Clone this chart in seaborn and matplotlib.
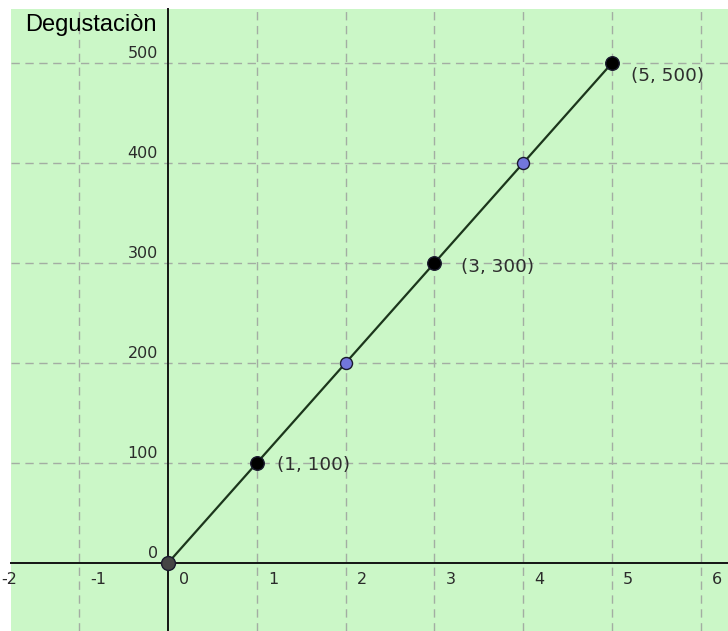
import matplotlib
matplotlib.use("Agg")
import matplotlib.pyplot as plt
import seaborn as sns
import pandas as pd

# Values of the linear relation y = 100 x
x_vals = [0, 1, 2, 3, 4, 5]
y_vals = [0, 100, 200, 300, 400, 500]
point_kind = ["origen", "dato", "intermedio", "dato", "intermedio", "dato"]

# Points carrying a coordinate label
label_x = [1, 3, 5]
label_y = [100, 300, 500]

x_ticks = [-2, -1, 0, 1, 2, 3, 4, 5, 6]
y_ticks = [0, 100, 200, 300, 400, 500]
y_title = "Degustaciòn"

df = pd.DataFrame({"x": x_vals, "y": y_vals, "tipo": point_kind})

sns.set_style("white")
plt.rcParams["font.family"] = ["DejaVu Sans"]

W, H = 728, 631
fig = plt.figure(figsize=(W / 100, H / 100), dpi=100, facecolor="white")
ax = fig.add_axes([11 / W, 0, (W - 11) / W, (H - 9) / H])
ax.set_facecolor("#cbf7c7")

# Line and points
sns.lineplot(data=df, x="x", y="y", color="#1c361c", lw=1.6, ax=ax,
             zorder=4, legend=False)
palette = {"origen": "#454545", "dato": "#000000", "intermedio": "#7276dc"}
sizes = {"origen": 100, "dato": 95, "intermedio": 75}
for kind in ["origen", "dato", "intermedio"]:
    sub = df[df["tipo"] == kind]
    sns.scatterplot(data=sub, x="x", y="y", color=palette[kind],
                    s=sizes[kind], edgecolor="#1a1a2e", linewidth=1.0,
                    ax=ax, zorder=5, legend=False)
ax.set_xlabel("")
ax.set_ylabel("")

ax.set_xlim(-1.768, 6.306)
ax.set_ylim(-68, 554)

# Dashed grid
for t in x_ticks:
    if t != 0:
        ax.axvline(t, color="#a3ada3", lw=1.0, dashes=(6, 4), zorder=1)
for t in y_ticks:
    if t != 0:
        ax.axhline(t, color="#a3ada3", lw=1.0, dashes=(6, 4), zorder=1)

# Axes through the origin
for side in ["top", "right"]:
    ax.spines[side].set_visible(False)
ax.spines["left"].set_position(("data", 0))
ax.spines["bottom"].set_position(("data", 0))
for side in ["left", "bottom"]:
    ax.spines[side].set_color("#141414")
    ax.spines[side].set_linewidth(1.4)
    ax.spines[side].set_zorder(3)
ax.set_xticks([t for t in x_ticks if t != 0])
ax.set_yticks([t for t in y_ticks if t != 0])
ax.tick_params(direction="out", length=4, width=1.2, color="#141414",
               labelbottom=False, labelleft=False)
ax.set_xlim(-1.768, 6.306)
ax.set_ylim(-68, 554)

# Tick labels placed beside the axes
for t in x_ticks:
    ax.annotate(str(t), xy=(t, 0), xytext=(11, -17), textcoords="offset pixels",
                ha="left", va="center", fontsize=11.5, color="#2b2b2b",
                annotation_clip=False)
for t in y_ticks:
    ax.annotate(str(t), xy=(0, t), xytext=(-10, 10), textcoords="offset pixels",
                ha="right", va="center", fontsize=11.5, color="#2b2b2b",
                annotation_clip=False)

# Coordinate labels of the points
offsets = [(20, -2), (27, -4), (19, -13)]
for px, py, off in zip(label_x, label_y, offsets):
    ax.annotate(f"({px}, {py})", xy=(px, py), xytext=off,
                textcoords="offset pixels", ha="left", va="center",
                fontsize=13.2, color="#2e2e2e", annotation_clip=False)

fig.text(25 / W, 1 - 31 / H, y_title, ha="left", va="baseline",
         fontsize=17, color="black", family=["Liberation Sans", "DejaVu Sans"])

fig.savefig("out.png", dpi=100, facecolor="white")
